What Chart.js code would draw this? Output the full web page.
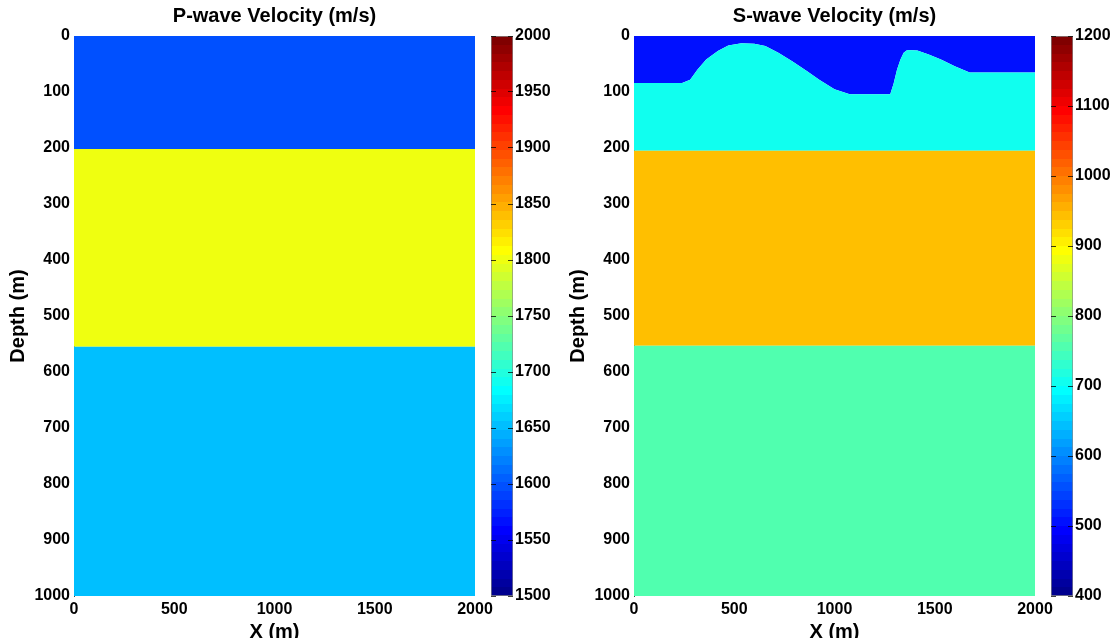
<!DOCTYPE html>
<html>
<head>
<meta charset="utf-8">
<script src="https://cdn.jsdelivr.net/npm/chart.js@4"></script>
<style>
  html, body { margin: 0; padding: 0; background: #fff; }
  #wrap { position: relative; width: 1115px; height: 638px; overflow: hidden; }
  canvas { position: absolute; top: 0; }
</style>
</head>
<body>
<div id="wrap">
  <canvas id="chartVp" width="500" height="638" style="left:0px"></canvas>
  <canvas id="barVp" width="100" height="638" style="left:470px"></canvas>
  <canvas id="chartVs" width="500" height="638" style="left:560px"></canvas>
  <canvas id="barVs" width="85" height="638" style="left:1030px"></canvas>
</div>
<script>
// modelo de camadas (profundidades em m, velocidades em m/s)
const xRange = [0, 2000];
const depthRange = [0, 1000];
const xTicksStep = 500;
const depthTicksStep = 100;

const vpRange = [1500, 2000];
const vpTicksStep = 50;
const vpLayers = [1600, 1800, 1650];
const vpInterfaces = [0, 202, 555, 1000];

const vsRange = [400, 1200];
const vsTicksStep = 100;
const vsLayers = [500, 700, 940, 755];
const vsInterfaces = [0, null, 205, 553, 1000];

// topo irregular da segunda camada no modelo S
const topoX = [0, 240, 280, 317, 360, 418, 470, 536, 600, 655, 720, 789, 860, 924, 1000, 1076,
  1278, 1295, 1312, 1329, 1345, 1363, 1413, 1470, 1531, 1600, 1674, 2000];
const topoZ = [84, 84, 78, 60, 42, 27, 17, 13, 14, 18, 30, 45, 62, 78, 95, 104,
  104, 85, 60, 42, 30, 25, 26, 33, 42, 54, 65, 65];

Chart.defaults.font.family = '"Liberation Sans", Arial, sans-serif';
Chart.defaults.color = '#000';

// colormap jet do MATLAB com 64 níveis
function jetMap(m = 64) {
  const n = Math.ceil(m / 4);
  const u = [];
  for (let i = 1; i <= n; i++) u.push(i / n);
  for (let i = 1; i < n; i++) u.push(1);
  for (let i = n; i >= 1; i--) u.push(i / n);
  const g0 = Math.ceil(n / 2) - (m % 4 === 1 ? 1 : 0);
  const map = Array.from({ length: m }, () => [0, 0, 0]);
  u.forEach((val, k) => {
    const g = g0 + k + 1;
    const r = g + n;
    const b = g - n;
    if (g >= 1 && g <= m) map[g - 1][1] = val;
    if (r >= 1 && r <= m) map[r - 1][0] = val;
    if (b >= 1 && b <= m) map[b - 1][2] = val;
  });
  return map;
}

const JET = jetMap(64);

function rgb(c) {
  return `rgb(${Math.round(c[0] * 255)}, ${Math.round(c[1] * 255)}, ${Math.round(c[2] * 255)})`;
}

function colorFor(value, range) {
  const t = (value - range[0]) / (range[1] - range[0]);
  const row = Math.max(0, Math.min(JET.length - 1, Math.floor(t * JET.length)));
  return rgb(JET[row]);
}

function flatLine(z) {
  return [{ x: xRange[0], y: z }, { x: xRange[1], y: z }];
}

function layerDataset(points, color) {
  return {
    data: points,
    fill: color ? '-1' : false,
    backgroundColor: color || 'transparent',
    borderColor: 'transparent',
    borderWidth: 1,
    pointRadius: 0,
    tension: 0
  };
}

const boldTick = { size: 16, weight: 'bold' };
const boldTitle = { size: 20, weight: 'bold' };
const plainLabel = value => String(value);

function renderModel(id, title, datasets) {
  return new Chart(document.getElementById(id), {
    type: 'line',
    data: { datasets },
    options: {
      responsive: false,
      animation: false,
      layout: { padding: { left: 0, right: 25, top: 0, bottom: 0 } },
      plugins: {
        legend: { display: false },
        tooltip: { enabled: false }
      },
      scales: {
        // eixo superior só para centralizar o título sobre a área do gráfico
        top: {
          type: 'linear',
          position: 'top',
          min: xRange[0],
          max: xRange[1],
          afterFit: scale => { scale.height = 36; },
          ticks: { display: false },
          grid: { display: false, drawTicks: false },
          border: { display: false },
          title: { display: true, text: title, font: boldTitle, padding: { top: 4, bottom: 0 } }
        },
        x: {
          type: 'linear',
          min: xRange[0],
          max: xRange[1],
          afterFit: scale => { scale.height = 42; },
          ticks: { stepSize: xTicksStep, font: boldTick, padding: 4, maxRotation: 0, callback: plainLabel },
          grid: { display: false, drawTicks: false },
          border: { display: false },
          title: { display: true, text: 'X (m)', font: boldTitle, padding: { top: 0, bottom: -6 } }
        },
        y: {
          type: 'linear',
          reverse: true,
          min: depthRange[0],
          max: depthRange[1],
          afterFit: scale => { scale.width = 74; },
          ticks: { stepSize: depthTicksStep, font: boldTick, padding: 4, callback: plainLabel },
          grid: { display: false, drawTicks: false },
          border: { display: true, color: '#444', width: 1 },
          title: { display: true, text: 'Depth (m)', font: boldTitle, padding: { top: 6, bottom: 0 } }
        }
      }
    }
  });
}

function renderColorbar(id, range, step, canvasWidth) {
  return new Chart(document.getElementById(id), {
    type: 'bar',
    data: {
      labels: [''],
      datasets: [{
        data: [[range[0], range[1]]],
        backgroundColor: context => {
          const chart = context.chart;
          const area = chart.chartArea;
          if (!area) return null;
          const g = chart.ctx.createLinearGradient(0, area.bottom, 0, area.top);
          JET.forEach((c, i) => {
            g.addColorStop(i / JET.length, rgb(c));
            g.addColorStop((i + 1) / JET.length, rgb(c));
          });
          return g;
        },
        borderColor: '#8a8a8a',
        borderWidth: 1,
        borderSkipped: false,
        barPercentage: 1,
        categoryPercentage: 1
      }]
    },
    options: {
      responsive: false,
      animation: false,
      layout: { padding: { left: 21, right: 0, top: 36, bottom: 42 } },
      plugins: { legend: { display: false }, tooltip: { enabled: false } },
      scales: {
        x: { display: false },
        y: {
          position: 'right',
          min: range[0],
          max: range[1],
          afterFit: scale => { scale.width = canvasWidth - 43; },
          ticks: { stepSize: step, font: boldTick, padding: 2, callback: plainLabel },
          grid: { drawTicks: false, color: 'rgba(0,0,0,0.75)', z: 1 },
          border: { display: false, dash: [5, 12] }
        }
      }
    }
  });
}

const vpDatasets = [
  layerDataset(flatLine(vpInterfaces[3])),
  layerDataset(flatLine(vpInterfaces[2]), colorFor(vpLayers[2], vpRange)),
  layerDataset(flatLine(vpInterfaces[1]), colorFor(vpLayers[1], vpRange)),
  layerDataset(flatLine(vpInterfaces[0]), colorFor(vpLayers[0], vpRange))
];

const topoPoints = topoX.map((x, i) => ({ x, y: topoZ[i] }));
const vsDatasets = [
  layerDataset(flatLine(vsInterfaces[4])),
  layerDataset(flatLine(vsInterfaces[3]), colorFor(vsLayers[3], vsRange)),
  layerDataset(flatLine(vsInterfaces[2]), colorFor(vsLayers[2], vsRange)),
  layerDataset(topoPoints, colorFor(vsLayers[1], vsRange)),
  layerDataset(flatLine(vsInterfaces[0]), colorFor(vsLayers[0], vsRange))
];

renderModel('chartVp', 'P-wave Velocity (m/s)', vpDatasets);
renderColorbar('barVp', vpRange, vpTicksStep, 100);
renderModel('chartVs', 'S-wave Velocity (m/s)', vsDatasets);
renderColorbar('barVs', vsRange, vsTicksStep, 85);
</script>
</body>
</html>
